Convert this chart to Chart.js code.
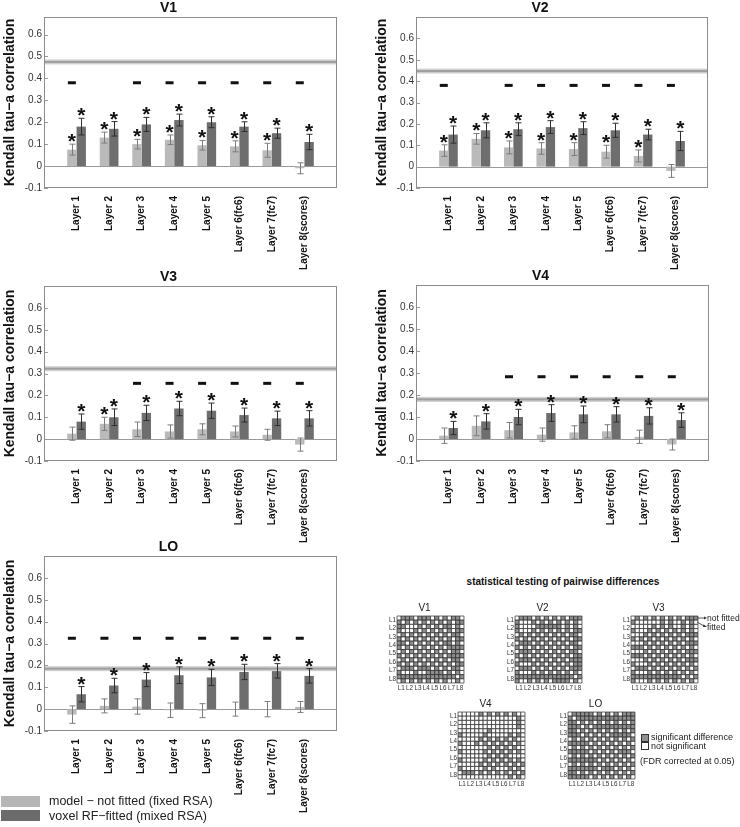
<!DOCTYPE html>
<html>
<head>
<meta charset="utf-8">
<script src="https://cdn.jsdelivr.net/npm/chart.js@4.4.1/dist/chart.umd.min.js"></script>
<style>
body{margin:0;background:#fff;font-family:"Liberation Sans",Arial,sans-serif;}
#page{position:relative;width:740px;height:827px;overflow:hidden;}
canvas{position:absolute;}
.t{position:absolute;white-space:nowrap;color:#222;line-height:1;}
.sq{position:absolute;box-sizing:border-box;}
</style>
</head>
<body>
<div id="page">
  <canvas id="cV1"></canvas>
  <canvas id="cV2"></canvas>
  <canvas id="cV3"></canvas>
  <canvas id="cV4"></canvas>
  <canvas id="cLO"></canvas>

  <div class="sq" style="left:1px;top:796px;width:39px;height:11px;background:#b6b6b6"></div>
  <div class="sq" style="left:1px;top:810px;width:39px;height:11px;background:#6b6b6b"></div>
  <div class="t" style="left:49px;top:795px;font-size:12.5px">model − not fitted (fixed RSA)</div>
  <div class="t" style="left:49px;top:810px;font-size:12.5px">voxel RF−fitted (mixed RSA)</div>

  <div class="t" style="left:413px;top:577px;width:300px;text-align:center;font-size:10px;font-weight:bold;color:#111">statistical testing of pairwise differences</div>

  <canvas id="mV1"></canvas>
  <canvas id="mV2"></canvas>
  <canvas id="mV3"></canvas>
  <canvas id="mV4"></canvas>
  <canvas id="mLO"></canvas>

  <svg style="position:absolute;left:694px;top:612px" width="14" height="18">
    <line x1="3" y1="6" x2="10" y2="6" stroke="#333" stroke-width="0.8"/>
    <path d="M10,4.5 L13,6 L10,7.5 Z" fill="#333"/>
    <line x1="3" y1="10" x2="10" y2="14" stroke="#333" stroke-width="0.8"/>
    <path d="M9.5,12.3 L13,15 L9,15 Z" fill="#333"/>
  </svg>
  <div class="t" style="left:707px;top:614px;font-size:8.5px">not fitted</div>
  <div class="t" style="left:707px;top:623px;font-size:8.5px">fitted</div>

  <div class="sq" style="left:641px;top:734px;width:8px;height:8px;background:#8f8f8f;border:0.8px solid #333"></div>
  <div class="sq" style="left:641px;top:742px;width:8px;height:8px;background:#fff;border:0.8px solid #333"></div>
  <div class="t" style="left:651px;top:733px;font-size:9px">significant difference</div>
  <div class="t" style="left:651px;top:742px;font-size:9px">not significant</div>
  <div class="t" style="left:640px;top:757px;font-size:9px">(FDR corrected at 0.05)</div>
</div>
<script>
// bar chart data
const layers = ['Layer 1','Layer 2','Layer 3','Layer 4','Layer 5','Layer 6(fc6)','Layer 7(fc7)','Layer 8(scores)'];

const v1Fixed     = [0.075, 0.130, 0.100, 0.120, 0.095, 0.090, 0.072, -0.010];
const v1FixedErr  = [0.025, 0.025, 0.022, 0.022, 0.022, 0.025, 0.032, 0.025];
const v1Fitted    = [0.180, 0.170, 0.190, 0.210, 0.200, 0.180, 0.150, 0.110];
const v1FittedErr = [0.038, 0.033, 0.032, 0.027, 0.025, 0.022, 0.023, 0.035];
const v1FixedStar = [1,1,1,1,1,1,1,0];
const v1FitStar   = [1,1,1,1,1,1,1,1];
const v1Dash      = [1,0,1,1,1,1,1,1];

const v2Fixed     = [0.075, 0.130, 0.090, 0.085, 0.082, 0.070, 0.050, -0.020];
const v2FixedErr  = [0.027, 0.025, 0.030, 0.027, 0.030, 0.030, 0.028, 0.030];
const v2Fitted    = [0.150, 0.170, 0.175, 0.185, 0.180, 0.170, 0.150, 0.120];
const v2FittedErr = [0.040, 0.035, 0.030, 0.030, 0.030, 0.033, 0.025, 0.045];
const v2FixedStar = [1,1,1,1,1,1,1,0];
const v2FitStar   = [1,1,1,1,1,1,1,1];
const v2Dash      = [1,0,1,1,1,1,1,1];

const v3Fixed     = [0.025, 0.070, 0.045, 0.035, 0.045, 0.035, 0.020, -0.025];
const v3FixedErr  = [0.030, 0.030, 0.033, 0.030, 0.025, 0.025, 0.025, 0.030];
const v3Fitted    = [0.080, 0.100, 0.120, 0.140, 0.130, 0.110, 0.095, 0.095];
const v3FittedErr = [0.035, 0.038, 0.035, 0.033, 0.035, 0.032, 0.033, 0.035];
const v3FixedStar = [0,1,0,0,0,0,0,0];
const v3FitStar   = [1,1,1,1,1,1,1,1];
const v3Dash      = [0,0,1,1,1,1,1,1];

const v4Fixed     = [0.015, 0.060, 0.040, 0.020, 0.030, 0.035, 0.010, -0.025];
const v4FixedErr  = [0.035, 0.045, 0.035, 0.030, 0.030, 0.030, 0.030, 0.025];
const v4Fitted    = [0.050, 0.080, 0.100, 0.118, 0.112, 0.112, 0.105, 0.086];
const v4FittedErr = [0.030, 0.035, 0.035, 0.038, 0.038, 0.035, 0.037, 0.033];
const v4FixedStar = [0,0,0,0,0,0,0,0];
const v4FitStar   = [1,1,1,1,1,1,1,1];
const v4Dash      = [0,0,1,1,1,1,1,1];

const loFixed     = [-0.025, 0.015, 0.012, -0.005, -0.007, 0.000, 0.000, 0.010];
const loFixedErr  = [0.040, 0.032, 0.035, 0.033, 0.032, 0.032, 0.035, 0.025];
const loFitted    = [0.068, 0.108, 0.135, 0.155, 0.145, 0.170, 0.175, 0.152];
const loFittedErr = [0.035, 0.033, 0.032, 0.038, 0.037, 0.035, 0.033, 0.033];
const loFixedStar = [0,0,0,0,0,0,0,0];
const loFitStar   = [1,1,1,1,1,1,1,1];
const loDash      = [1,1,1,1,1,1,1,1];

// noise ceiling and dash height per region
const regions   = ['V1','V2','V3','V4','LO'];
const ceilings  = [0.475, 0.447, 0.322, 0.180, 0.185];
const dashLevel = [0.38, 0.38, 0.255, 0.283, 0.324];

// pairwise tests: rows/cols = L1 not fitted, L1 fitted, L2 not fitted, ...
const matLabels = ['L1','L2','L3','L4','L5','L6','L7','L8'];
const matV1 = [
  '0111011101010110','1010101010101011','1100010101011010','1000101010101011',
  '0101010101010110','1010101010101011','1101010101011010','1010101010101111',
  '0101010101010110','1010101010101111','0101010101010110','1010101010101011',
  '0111011101010110','1000100111101010','1111111111111101','0101010101010010'];
const matV2 = [
  '0111010101010111','1000101010101010','1000011111101010','1000101010101011',
  '0101010101010110','1010101010101011','0111010101010110','1010101010101011',
  '0111010101010110','1010101010101011','0111010101010111','1000101010101011',
  '0111010101010111','1000101010101010','1111111111111101','1001010101111010'];
const matV3 = [
  '0101010101010111','1000000101001010','0000010101001010','1000101010101010',
  '0001010101010111','1010101010101010','0001010101010111','1110101010101010',
  '0001010101010111','1110101010101010','0001010101010111','1000101010101010',
  '0111010101010101','1000101010101010','1111111111110101','1000101010101010'];
const matV4 = [
  '0000010101010100','0000000000000010','0000000000000010','0000000000000010',
  '0000000100000000','1000001000001010','0000010101010100','1000101010101010',
  '0000000101010100','1000001010101010','0000000101010000','1000001010101010',
  '0000010101010101','1000001010001010','0111010101010101','0000000000001010'];
const matLO = [
  '0111110101010111','1011111111111111','1101010101010101','1110101111111111',
  '1101010101010101','1110101010111110','0101010101010101','1111101010101010',
  '0101010101010101','1111101010101110','0101010101010101','1111111010101010',
  '0101010101010101','1111111011101010','1101010101010101','1111101010101010'];

const LIGHT = '#bababa', DARK = '#6e6e6e', CELL = '#8f8f8f';
const FONT = '"Liberation Sans", Arial, sans-serif';

const decor = {
  id: 'decor',
  beforeDatasetsDraw(chart, args, o) {
    const {ctx, chartArea: a, scales: {y}} = chart;
    ctx.save();
    ctx.strokeStyle = '#9a9a9a';
    ctx.lineWidth = 1;
    ctx.beginPath();
    const y0 = Math.round(y.getPixelForValue(0)) + 0.5;
    ctx.moveTo(a.left, y0); ctx.lineTo(a.right, y0);
    y.ticks.forEach(t => {
      const py = Math.round(y.getPixelForValue(t.value)) + 0.5;
      ctx.moveTo(a.left, py); ctx.lineTo(a.left + 4, py);
    });
    ctx.stroke();
    ctx.restore();
  },
  afterDatasetsDraw(chart, args, o) {
    const {ctx, chartArea: a, scales: {y}} = chart;
    ctx.save();
    // noise ceiling band
    const yc = y.getPixelForValue(o.ceiling);
    ctx.fillStyle = '#d0d0d0';
    ctx.fillRect(a.left, yc - 2.5, a.right - a.left, 5);
    ctx.fillStyle = '#9e9e9e';
    ctx.fillRect(a.left, yc - 1, a.right - a.left, 2);
    // error bars and stars
    const sets = [[o.fixed, o.fixedErr, o.fixedStar, '#7c7c7c'], [o.fitted, o.fittedErr, o.fitStar, '#2e2e2e']];
    sets.forEach(([vals, errs, stars, col], di) => {
      const meta = chart.getDatasetMeta(di);
      vals.forEach((v, k) => {
        const bar = meta.data[k + 1];
        const x = Math.round(bar.x) + 0.5;
        const yt = y.getPixelForValue(v + errs[k]);
        const yb = y.getPixelForValue(v - errs[k]);
        ctx.strokeStyle = col;
        ctx.lineWidth = 1;
        ctx.beginPath();
        ctx.moveTo(x, yt); ctx.lineTo(x, yb);
        ctx.moveTo(x - 3, yt); ctx.lineTo(x + 3, yt);
        ctx.moveTo(x - 3, yb); ctx.lineTo(x + 3, yb);
        ctx.stroke();
        if (stars[k]) {
          ctx.fillStyle = '#111';
          ctx.font = 'bold 21px ' + FONT;
          ctx.textAlign = 'center';
          ctx.textBaseline = 'alphabetic';
          ctx.fillText('*', bar.x, yt - 8 + 0.57 * 21);
        }
      });
    });
    // significance dashes
    const m0 = chart.getDatasetMeta(0);
    const yd = y.getPixelForValue(o.dashY);
    ctx.fillStyle = '#111';
    o.dash.forEach((s, k) => {
      if (!s) return;
      const x = m0.data[k + 1].x;
      ctx.fillRect(x - 4, yd - 1.5, 8, 3);
    });
    // box
    ctx.strokeStyle = '#8c8c8c';
    ctx.lineWidth = 1;
    ctx.strokeRect(Math.round(a.left) + 0.5, Math.round(a.top) + 0.5,
                   Math.round(a.right - a.left) - 1, Math.round(a.bottom - a.top) - 1);
    ctx.restore();
  }
};

function barPanel(id, name, pos, d) {
  const cv = document.getElementById(id);
  const W = 370, extra = 20, H = (pos.b - pos.t) + 17 + 82 + extra;
  cv.width = W; cv.height = H;
  cv.style.left = (pos.l - 44) + 'px';
  cv.style.top = (pos.t - 17) + 'px';
  const pad = v => [null, ...v, null];
  new Chart(cv, {
    type: 'bar',
    data: {
      labels: ['', ...layers, ''],
      datasets: [
        {label: 'model - not fitted (fixed RSA)', data: pad(d.fixed), backgroundColor: LIGHT},
        {label: 'voxel RF-fitted (mixed RSA)', data: pad(d.fitted), backgroundColor: DARK}
      ]
    },
    options: {
      responsive: false, animation: false, devicePixelRatio: 1,
      datasets: {bar: {categoryPercentage: 0.575, barPercentage: 1.0}},
      layout: {padding: {left: 0, right: W - 44 - (pos.r - pos.l), top: 0, bottom: extra}},
      plugins: {
        legend: {display: false}, tooltip: {enabled: false},
        title: {display: true, text: name, color: '#111', padding: 0,
                font: {family: FONT, size: 14, weight: 'bold', lineHeight: 17 / 14}},
        decor: d
      },
      scales: {
        x: {
          offset: false,
          grid: {display: false, drawTicks: false}, border: {display: false},
          ticks: {autoSkip: false, minRotation: 90, maxRotation: 90, padding: 8, color: '#111',
                  font: {family: FONT, size: 10, weight: 'bold'}},
          afterFit: s => { s.height = 82; }
        },
        y: {
          min: -0.1, max: pos.max,
          grid: {display: false, drawTicks: false}, border: {display: false},
          afterBuildTicks: s => { s.ticks = s.ticks.filter(t => t.value < 0.65); },
          ticks: {stepSize: 0.1, padding: 2, color: '#333',
                  font: {family: FONT, size: 10},
                  callback: v => String(Math.round(v * 10) / 10)},
          title: {display: true, text: 'Kendall tau\u2212a correlation', color: '#111', padding: {top: 2, bottom: 0},
                  font: {family: FONT, size: 14, weight: 'bold'}},
          afterFit: s => { s.width = 44; }
        }
      }
    },
    plugins: [decor]
  });
}

function panelData(i, fixed, fixedErr, fitted, fittedErr, fixedStar, fitStar, dash) {
  return {fixed, fixedErr, fitted, fittedErr, fixedStar, fitStar, dash,
          ceiling: ceilings[i], dashY: dashLevel[i]};
}

barPanel('cV1', regions[0], {l: 44, t: 17, r: 337, b: 188, max: 0.68},
  panelData(0, v1Fixed, v1FixedErr, v1Fitted, v1FittedErr, v1FixedStar, v1FitStar, v1Dash));
barPanel('cV2', regions[1], {l: 416, t: 17, r: 708, b: 188, max: 0.70},
  panelData(1, v2Fixed, v2FixedErr, v2Fitted, v2FittedErr, v2FixedStar, v2FitStar, v2Dash));
barPanel('cV3', regions[2], {l: 44, t: 286, r: 337, b: 461, max: 0.70},
  panelData(2, v3Fixed, v3FixedErr, v3Fitted, v3FittedErr, v3FixedStar, v3FitStar, v3Dash));
barPanel('cV4', regions[3], {l: 416, t: 285, r: 709, b: 461, max: 0.70},
  panelData(3, v4Fixed, v4FixedErr, v4Fitted, v4FittedErr, v4FixedStar, v4FitStar, v4Dash));
barPanel('cLO', regions[4], {l: 44, t: 556, r: 337, b: 731, max: 0.70},
  panelData(4, loFixed, loFixedErr, loFitted, loFittedErr, loFixedStar, loFitStar, loDash));

// significance matrices
const cellPx = 4.15;
function matrixPanel(id, name, gx, gy, rows) {
  const cv = document.getElementById(id);
  const size = 16 * cellPx, padL = 12, padT = 14, padB = 9, padR = 4;
  cv.width = Math.ceil(size + padL + padR);
  cv.height = Math.ceil(size + padT + padB);
  cv.style.left = (gx - padL) + 'px';
  cv.style.top = (gy - padT) + 'px';
  const pts = [];
  rows.forEach((row, r) => row.split('').forEach((ch, c) => pts.push({x: c, y: r, s: ch === '1'})));
  const tickPos = matLabels.map((_, i) => i * 2 + 0.5);
  const axis = (extra) => Object.assign({
    type: 'linear', min: -0.5, max: 15.5,
    grid: {display: false, drawTicks: false}, border: {display: false},
    afterBuildTicks: s => { s.ticks = tickPos.map(v => ({value: v})); },
    ticks: {autoSkip: false, maxRotation: 0, padding: 1, color: '#333',
            font: {family: FONT, size: 6.3},
            callback: (v, i) => matLabels[i]}
  }, extra);
  new Chart(cv, {
    type: 'scatter',
    data: {datasets: [{
      data: pts, pointStyle: 'rect', clip: false,
      pointRadius: cellPx / Math.SQRT2, pointHoverRadius: cellPx / Math.SQRT2,
      backgroundColor: c => (c.raw && c.raw.s) ? CELL : '#ffffff',
      borderColor: '#2a2a2a', borderWidth: 0.7
    }]},
    options: {
      responsive: false, animation: false, devicePixelRatio: 1,
      layout: {padding: {left: 0, right: padR, top: 0, bottom: 0}},
      plugins: {
        legend: {display: false}, tooltip: {enabled: false},
        title: {display: true, text: name, color: '#222', padding: {top: 0, bottom: 2},
                font: {family: FONT, size: 10, weight: 'normal', lineHeight: 1.2}}
      },
      scales: {
        x: axis({afterFit: s => { s.height = padB; }}),
        y: axis({reverse: true, afterFit: s => { s.width = padL; }})
      }
    }
  });
}

matrixPanel('mV1', 'V1', 397, 616, matV1);
matrixPanel('mV2', 'V2', 515, 616, matV2);
matrixPanel('mV3', 'V3', 631, 616, matV3);
matrixPanel('mV4', 'V4', 458, 712, matV4);
matrixPanel('mLO', 'LO', 568, 712, matLO);
</script>
</body>
</html>
